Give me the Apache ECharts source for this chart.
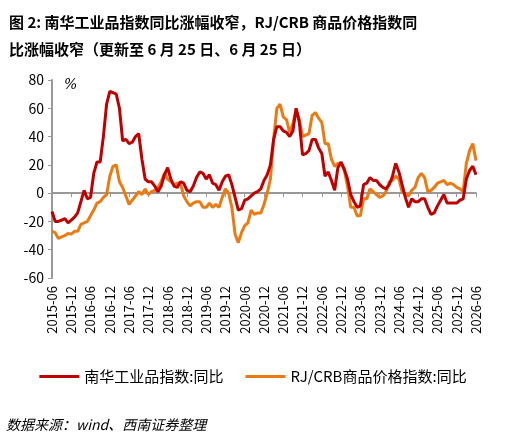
<!DOCTYPE html>
<html lang="zh">
<head>
<meta charset="UTF-8">
<title>chart</title>
<script src="https://cdn.jsdelivr.net/npm/echarts@6/dist/echarts.min.js"></script>
<style>
  body { margin: 0; background: #fff; }
  #chart { width: 506px; height: 441px; }
</style>
</head>
<body>
<div id="chart"></div>
<script>
  // 月度，2015-06 ~ 2026-06
  var months = []
  for (var y = 2015, m = 6; months.length < 133; m++) {
    if (m > 12) { m = 1; y++ }
    months.push(y + '-' + (m < 10 ? '0' + m : m))
  }
  var nanhua = [-13,-20,-20,-19,-18,-21,-19,-17,-14,-6,2,-4,-3,14,22,22,40,63,72,71,
    70,60,37,38,35,36,40,42,24,10,8,8,5,1,5,13,18,10,5,4,
    8,7,2,1,5,11,15,14,10,13,7,6,2,8,12,13,6,-3,-12,-11,
    -5,-4,-2,0,
    1,3,9,13,20,38,47,47,44,43,40,44,60,50,27,28,30,38,38,32,
    28,12,15,9,2,18,22,17,10,-1,-6,-10,-9,6,7,11,9,9,6,4,
    3,6,12,21,15,6,-3,-10,-4,-6,-6,-4,-4,-10,-15,-14,-9,-5,-1,-7,
    -7,-7,-7,-5,-4,10,16,19,13]
  var rjcrb = [-27,-28,-32,-31,-30,-28.5,-29,-27,-27,-22,-21,-20,-16,-12,-7,-6,-3,-1,12,19,
    20,8,4,-2,-8,-5,-2,1,-1,3,-1,1,2,4,8,14,10,8,6,7,
    7,-2,-6,-9,-7,-6,-6,-10,-10,-7,-10,-8,-10,-3,3,0,-10,-29,-35,-28,
    -23,-21,-12,-15,-14,-14,-8,0,10,38,60,63,
    54,52,43,49,59,52,40,41,42,55,57,53,50,35,35,24,19,21,21,16,
    5,-10,-10,-16,-16,-4,-4,3,1,-1,
    -3,-2,1,8,9,12,10,1,-1,-2,2,4,11,14,11,1,2,4,7,8,
    9,6,7,6,4,3,1,21,30,35,23]
  var seriesNames = ['南华工业品指数:同比', 'RJ/CRB商品价格指数:同比']

  var font = '"Noto Sans CJK SC", "Liberation Sans", sans-serif'
  var chart = echarts.init(document.getElementById('chart'))
  chart.setOption({
    animation: false,
    title: {
      text: '图 2: 南华工业品指数同比涨幅收窄，RJ/CRB 商品价格指数同\n比涨幅收窄（更新至 6 月 25 日、6 月 25 日）',
      left: 4, top: 4,
      textStyle: { fontFamily: font, fontSize: 15, fontWeight: 'bold', color: '#000', lineHeight: 27 }
    },
    graphic: [
      { type: 'text', left: 64, top: 78, style: { text: '%', font: 'italic 14px "DejaVu Serif", serif', fill: '#000' } },
      { type: 'text', left: 6, top: 418, style: { text: '数据来源：wind、西南证券整理', font: 'italic 14px ' + font, fill: '#000' } }
    ],
    legend: {
      top: 364, left: 'center', itemGap: 22, itemWidth: 40, itemHeight: 3,
      icon: 'rect',
      textStyle: { fontFamily: font, fontSize: 15, color: '#000' },
      data: seriesNames
    },
    grid: { left: 52, right: 30, top: 80, bottom: 163 },
    xAxis: [{
      type: 'category', data: months, boundaryGap: false,
      axisLine: { onZero: true, lineStyle: { color: '#999', width: 2 } },
      axisTick: { interval: 5, length: 4, lineStyle: { color: '#999' } },
      axisLabel: { show: false }
    }, {
      type: 'category', data: months, boundaryGap: false, position: 'bottom',
      axisLine: { show: false, onZero: false },
      axisTick: { show: false },
      axisLabel: { interval: 5, rotate: 90, fontFamily: font, fontSize: 13, color: '#000', margin: 8, showMaxLabel: true }
    }],
    yAxis: {
      type: 'value', min: -60, max: 80, interval: 20,
      axisLine: { show: true, lineStyle: { color: '#999', width: 2 } },
      axisTick: { show: true, length: 4, lineStyle: { color: '#999' } },
      splitLine: { show: false },
      axisLabel: { fontFamily: font, fontSize: 14, color: '#000' }
    },
    series: [
      { name: seriesNames[0], type: 'line', data: nanhua, showSymbol: false, z: 3,
        lineStyle: { color: '#C00000', width: 3 }, itemStyle: { color: '#C00000' } },
      { name: seriesNames[1], type: 'line', data: rjcrb, showSymbol: false, z: 2,
        lineStyle: { color: '#EB7A12', width: 3 }, itemStyle: { color: '#EB7A12' } }
    ]
  })
</script>
</body>
</html>
